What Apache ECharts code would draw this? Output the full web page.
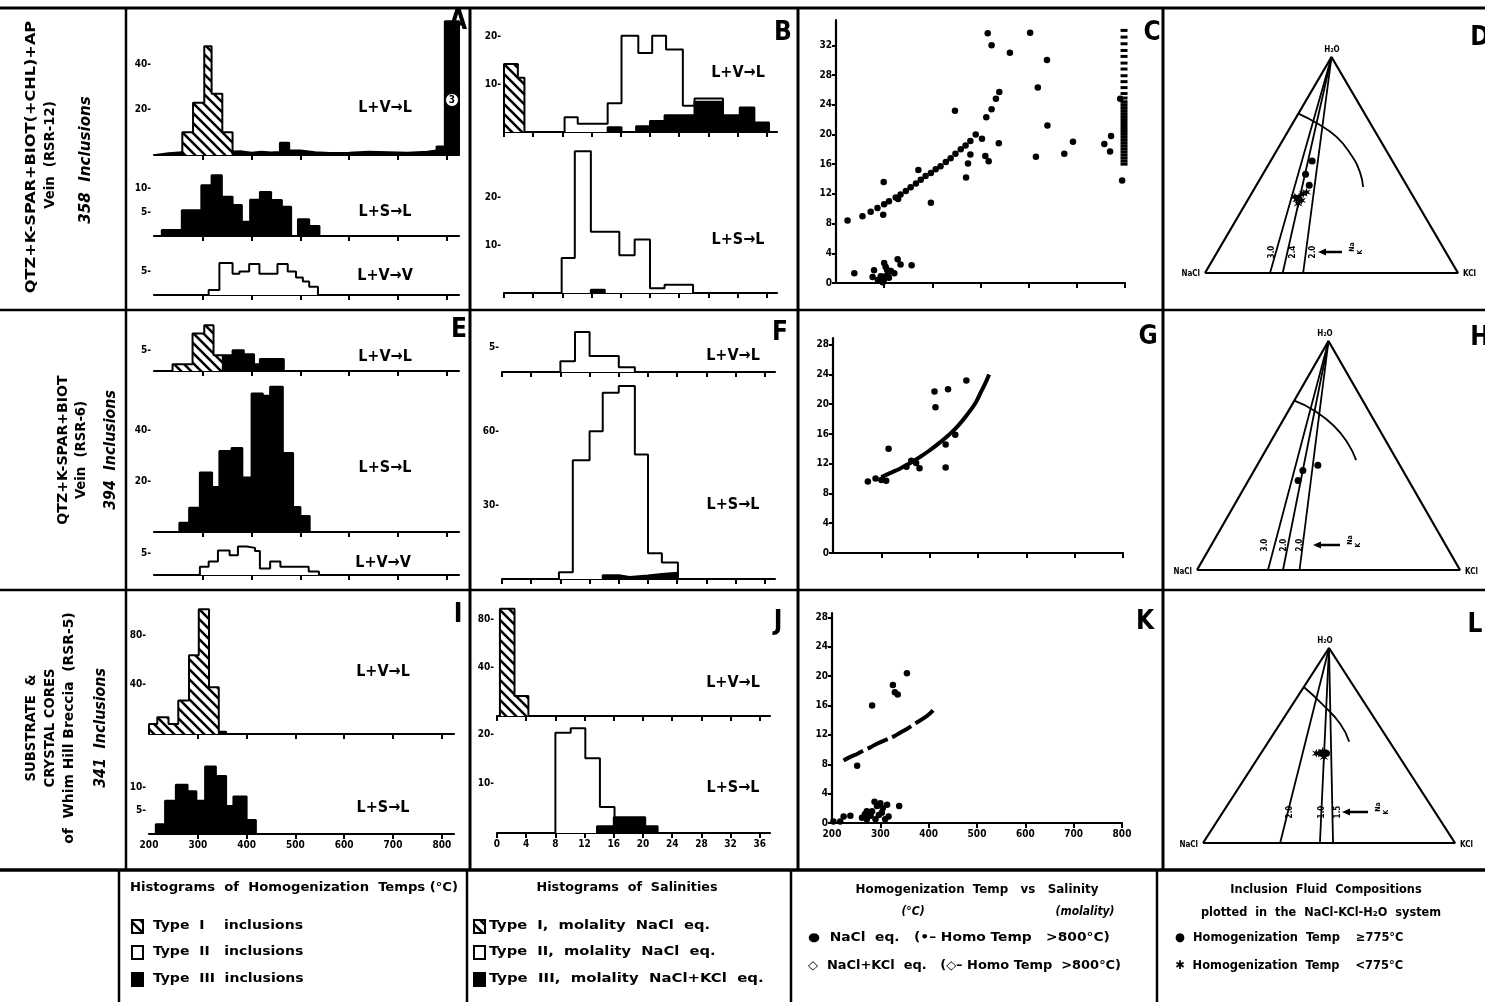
<!DOCTYPE html>
<html><head><meta charset="utf-8">
<script src="https://cdn.jsdelivr.net/npm/echarts@6/dist/echarts.min.js"></script>
<style>html,body{margin:0;padding:0;background:#fff}#c{width:1485px;height:1005px}</style>
</head><body><div id="c"></div>
<script>
// ================= DATA =================
const tempTicks = [300, 400, 500, 600, 700, 800];
const tempLabels = [200, 300, 400, 500, 600, 700, 800];
const salTicks = [0, 4, 8, 12, 16, 20, 24, 28, 32, 36];
const salLabels = [0, 4, 8, 12, 16, 20, 24, 28, 32, 36];
const scatYTicksC = [0, 4, 8, 12, 16, 20, 24, 28, 32];
const scatYTicksGK = [0, 4, 8, 12, 16, 20, 24, 28];

// Panel A (RSR-12) homogenization temps — bin edges (°C) and counts
const A1_typeI_edges = [258, 280, 303, 318, 340, 361];
const A1_typeI_vals  = [10, 23, 48, 27, 10];
const A1_typeIII_edges = [203, 230, 258, 361, 380, 400, 420, 440, 458, 477, 500, 530, 560, 600, 640, 680, 720, 760, 779, 796, 825];
const A1_typeIII_vals  = [0.8, 1.2, 1.5, 1.6, 1.0, 1.4, 1.1, 1.3, 5.4, 2.0, 1.2, 0.9, 1.0, 1.4, 1.2, 1.0, 1.4, 2.0, 3.7, 59];
const A2_typeIII_edges = [216, 257, 297, 318, 339, 361, 380, 397, 417, 440, 462, 481, 495, 518, 539];
const A2_typeIII_vals  = [1.25, 5.4, 10.6, 12.7, 8.2, 6.5, 3.0, 7.6, 9.2, 7.5, 6.1, 0, 3.5, 2.1];
const A3_typeII_edges = [312, 334, 361, 375, 395, 416, 453, 474, 491, 505, 518, 536];
const A3_typeII_vals  = [1.1, 6.9, 4.6, 5.1, 6.7, 4.6, 6.7, 5.1, 3.8, 2.9, 1.8];

// Panel E (RSR-6)
const E1_typeI_edges = [238, 258, 279, 303, 322, 341];
const E1_typeI_vals  = [1.6, 1.6, 9, 11, 3.8];
const E1_typeIII_edges = [341, 361, 384, 405, 417, 466];
const E1_typeIII_vals  = [3.8, 5.0, 4.0, 1.6, 2.9];
const E2_typeIII_edges = [252, 272, 294, 319, 334, 359, 381, 400, 423, 438, 464, 485, 500, 519];
const E2_typeIII_vals  = [3.7, 9.6, 23.5, 17.8, 32, 33.2, 21.5, 54.7, 53.8, 57.3, 31.2, 9.9, 6.3];
const E3_typeII_edges = [294, 312, 331, 355, 372, 390, 407, 417, 438, 459, 517, 538];
const E3_typeII_vals  = [1.9, 3.1, 5.6, 4.5, 6.5, 6.2, 5.5, 1.5, 3.1, 1.9, 0.8];

// Panel I (RSR-5)
const I1_typeI_edges = [200, 217, 240, 260, 282, 302, 323, 343];
const I1_typeI_vals  = [8.2, 13.6, 8.2, 27.2, 64, 101.5, 38.1];
const I1_typeIII_edges = [343, 358];
const I1_typeIII_vals  = [1.9];
const I2_typeIII_edges = [214, 233, 255, 279, 297, 315, 337, 358, 373, 400, 419];
const I2_typeIII_vals  = [2.1, 7.1, 10.5, 9.1, 7.1, 14.4, 12.4, 6.0, 8.0, 3.0];

// Panel B salinities (molality)
const B1_typeI_edges = [0, 1.9, 2.8];
const B1_typeI_vals  = [14.2, 11.3];
const B1_typeII_edges = [8.3, 10.1, 14.2, 16.1, 18.4, 20.3, 22.2, 24.5, 26.1, 30.0];
const B1_typeII_vals  = [3.1, 1.7, 6.0, 20.1, 16.5, 20.1, 17.2, 5.5, 7.0];
const B1_typeIII_edges = [14.2, 16.1, 18.1, 20.0, 22.0, 26.1, 30.0, 32.3, 34.3, 36.3];
const B1_typeIII_vals  = [1.0, 0, 1.2, 2.3, 3.5, 6.3, 3.5, 5.1, 2.0];
const B2_typeII_edges = [7.9, 9.7, 11.9, 15.8, 17.9, 20.0, 22.0, 25.9];
const B2_typeII_vals  = [7.3, 29.6, 12.8, 7.9, 11.2, 1.0, 1.7];
const B2_typeIII_edges = [11.9, 13.8];
const B2_typeIII_vals  = [0.7];

// Panel F
const F1_typeII_edges = [8.0, 10.0, 12.0, 16.0, 18.2];
const F1_typeII_vals  = [2.2, 8.3, 3.3, 1.0];
const F2_typeII_edges = [7.8, 9.7, 12.0, 13.8, 16.0, 18.2, 20.0, 21.9, 24.1];
const F2_typeII_vals  = [2.7, 48.2, 60, 75.6, 78.3, 50.5, 10.4, 6.7];
const F2_typeIII_edges = [13.8, 16.0, 17.5, 20.0, 21.9, 24.1];
const F2_typeIII_vals  = [1.5, 0.8, 1.4, 2.0, 2.5];

// Panel J
const J1_typeI_edges = [0.4, 2.4, 4.3];
const J1_typeI_vals  = [88.7, 16.5];
const J2_typeII_edges = [8.0, 10.1, 12.1, 14.1, 16.1];
const J2_typeII_vals  = [20.4, 21.3, 15.2, 5.3];
const J2_typeIII_edges = [13.7, 16.0, 20.3, 22.0];
const J2_typeIII_vals  = [1.35, 3.2, 1.35];

// Panel C: [temp °C, salinity molality]
const C_nacl = [[224,8.4],[255,9.0],[272,9.6],[286,10.1],[300,10.6],[310,11.0],[324,11.5],[334,11.9],[345,12.4],[355,12.9],[366,13.4],[376,13.9],[386,14.4],[397,14.8],[407,15.3],[417,15.7],[428,16.3],[438,16.8],[448,17.4],[459,18.0],[469,18.5],[479,19.1],[490,20.0],
  [299,13.6],[298,9.2],[329,11.3],[371,15.2],[397,10.8],[447,23.2],[470,14.2],[474,16.1],[479,17.3],[503,19.4],[510,17.1],[517,16.4],[512,22.3],[523,23.4],[532,24.8],[539,25.7],[538,18.8],[515,33.6],[523,32.0],[561,31.0],[603,33.7],[638,30.0],[619,26.3],[639,21.2],[615,17.0],[674,17.4],[692,19.0],[757,18.7],[771,19.8],[769,17.7],[794,13.8],[790,24.8],
  [238,1.3],[276,0.8],[279,1.7],[300,2.7],[303,2.2],[293,0.9],[300,0.5],[307,1.1],[314,1.6],[321,1.3],[310,0.7],[328,3.2],[334,2.5],[357,2.4],[297,0.1],[303,0.9],[287,0.4],[306,1.8]];
const C_over800_temp = 798;
const C_over800_sal = [16.0,16.4,16.8,17.2,17.6,18.0,18.4,18.8,19.2,19.6,20.0,20.4,20.8,21.2,21.6,22.0,22.4,22.8,23.2,23.6,24.0,24.4,24.9,25.5,26.3,27.1,27.9,28.8,29.6,30.5,31.3,32.2,33.1,34.0];

// Panel G
const G_curve = [[300,10.2],[320,10.8],[340,11.4],[360,12.1],[380,12.9],[400,13.8],[420,14.8],[440,15.9],[460,17.2],[480,18.8],[495,20.2],[505,21.5],[515,22.8],[523,24.0]];
const G_nacl = [[272,9.6],[288,10.0],[300,9.8],[310,9.7],[315,14.0],[352,11.6],[362,12.4],[372,12.1],[379,11.4],[410,21.7],[412,19.6],[438,22.0],[476,23.2],[433,14.6],[453,15.9],[433,11.5]];

// Panel K
const K_curve = [[224,8.5],[238,9.0],[252,9.4],[266,9.9],[279,10.3],[293,10.8],[314,11.4],[328,11.8],[341,12.3],[355,12.8],[369,13.4],[383,14.0],[397,14.6],[410,15.4]];
const K_nacl = [[252,7.8],[283,16.0],[355,20.4],[339,2.3],[326,18.8],[330,17.8],[336,17.5],
  [203,0.2],[217,0.2],[224,0.9],[238,1.0],[262,0.7],[268,1.2],[272,0.5],[272,1.6],[280,1.0],[283,1.6],[288,2.9],[290,0.5],[293,2.3],[297,1.1],[300,2.7],[303,1.4],[305,2.0],[310,0.5],[314,2.5],[317,0.9]];

// Ternary panels: compositions [NaCl, KCl, H2O] (%)
const triangle = [[100,0,0],[0,100,0],[0,0,100],[100,0,0]];
const D_ratioBaseK = [25.7, 30.7, 38.8];
const D_ratioLabels = ['3.0', '2.4', '2.0'];
const D_arc = [[26.2,0,73.8],[21.2,9.4,69.4],[16.5,20.5,63.0],[14.9,30.6,54.5],[15.4,37.8,46.8],[17.6,42.6,39.8]];
const D_hot = [[31.7,16.4,51.9],[37.4,16.9,45.7],[38.5,20.9,40.6]];
const D_cool = [[45.2,19.6,35.2],[46.8,19.2,34.0],[45.0,21.4,33.6],[47.2,20.8,32.1],[42.9,20.5,36.7],[46.9,17.9,35.2],[41.2,21.4,37.5]];
const H_ratioBaseK = [27, 32.7, 39];
const H_ratioLabels = ['3.0', '2.0', '2.0'];
const H_arc = [[26,0,74],[21,9,70],[16.5,20.5,63],[15,30,55],[15.5,36.5,48]];
const H_hot = [[38,18.5,43.5],[31.2,23.1,45.7],[42,18.9,39.1]];
const H_cool = [];
const L_ratioBaseK = [30.6, 46.4, 51.6];
const L_ratioLabels = ['2.0', '1.0', '1.5'];
const L_arc = [[20,0,80],[17,12,71],[15,24,61],[16,32,52]];
const L_hot = [[30,24,46],[28,26,46]];
const L_cool = [[31,23,46],[29,24,47],[30,26,44],[32,22,46]];

// ================= BUILD =================
const FONT = "'DejaVu Sans Condensed','Liberation Sans Narrow','DejaVu Sans',sans-serif";
function hatchCanvas() {
  const c = document.createElement('canvas'); const n = 10; c.width = n; c.height = n;
  const g = c.getContext('2d'); g.fillStyle = '#fff'; g.fillRect(0, 0, n, n);
  g.strokeStyle = '#000'; g.lineWidth = 2.6; g.beginPath();
  g.moveTo(-2, -2); g.lineTo(n + 2, n + 2);
  g.moveTo(-2, n - 2); g.lineTo(2, n + 2);
  g.moveTo(n - 2, -2); g.lineTo(n + 2, 2);
  g.stroke(); return c;
}
const HATCH = { image: hatchCanvas(), repeat: 'repeat' };

const grids = [], xAxes = [], yAxes = [], series = [];
function addGrid(g, xa, ya) {
  grids.push(Object.assign({ containLabel: false }, g));
  const i = grids.length - 1;
  xAxes.push(Object.assign({ gridIndex: i }, xa));
  yAxes.push(Object.assign({ gridIndex: i }, ya));
  return i;
}
const lblStyle = { color: '#000', fontFamily: FONT, fontWeight: 'bold', fontSize: 10 };
function histX(min, max, ticks, labels) {
  return { type: 'value', min: min, max: max, splitLine: { show: false },
    axisLine: { show: true, onZero: false, lineStyle: { color: '#000', width: 2.2 } },
    axisTick: { show: true, customValues: ticks, length: 5, lineStyle: { color: '#000', width: 2 } },
    axisLabel: Object.assign({ show: !!labels, customValues: labels || [], margin: 6, fontSize: 11 }, lblStyle) };
}
function histY(max, labels) {
  return { type: 'value', min: 0, max: max, splitLine: { show: false },
    axisLine: { show: false }, axisTick: { show: false },
    axisLabel: Object.assign({ show: true, customValues: labels, formatter: '{value}-', margin: 3 }, lblStyle) };
}
function outline(edges, vals) {
  const pts = [[edges[0], 0]];
  for (let i = 0; i < vals.length; i++) { pts.push([edges[i], vals[i]]); pts.push([edges[i + 1], vals[i]]); }
  pts.push([edges[edges.length - 1], 0]);
  return pts;
}
function hist(gi, edges, vals, kind, z) {
  const fill = kind === 'black' ? '#000' : (kind === 'hatch' ? HATCH : '#fff');
  series.push({ type: 'line', xAxisIndex: gi, yAxisIndex: gi, data: outline(edges, vals),
    symbol: 'none', showSymbol: false, smooth: false, z: z || 2, silent: true,
    lineStyle: { color: '#000', width: 2 }, areaStyle: { color: fill, opacity: 1 } });
}

// ---- Column 1: homogenization temps
function tempGrid(left, top, height, yMax, yLabels, showX) {
  return addGrid({ left: left, top: top, width: 305, height: height },
    histX(200, 825, tempTicks, showX ? tempLabels : null), histY(yMax, yLabels));
}
let g;
g = tempGrid(154, 19, 136, 60, [20, 40]);
hist(g, A1_typeIII_edges, A1_typeIII_vals, 'black', 2); hist(g, A1_typeI_edges, A1_typeI_vals, 'hatch', 3);
g = tempGrid(154, 169, 67, 14, [5, 10]);
hist(g, A2_typeIII_edges, A2_typeIII_vals, 'black');
g = tempGrid(154, 258, 37, 8, [5]);
hist(g, A3_typeII_edges, A3_typeII_vals, 'open');
g = tempGrid(154, 321, 50, 12, [5]);
hist(g, E1_typeIII_edges, E1_typeIII_vals, 'black', 2); hist(g, E1_typeI_edges, E1_typeI_vals, 'hatch', 3);
g = tempGrid(154, 380, 152, 60, [20, 40]);
hist(g, E2_typeIII_edges, E2_typeIII_vals, 'black');
g = tempGrid(154, 540, 35, 8, [5]);
hist(g, E3_typeII_edges, E3_typeII_vals, 'open');
g = tempGrid(149, 605, 129, 105, [40, 80]);
hist(g, I1_typeIII_edges, I1_typeIII_vals, 'black', 2); hist(g, I1_typeI_edges, I1_typeI_vals, 'hatch', 3);
g = tempGrid(149, 759, 75, 16, [5, 10], true);
hist(g, I2_typeIII_edges, I2_typeIII_vals, 'black');

// ---- Column 2: salinities
function salGrid(left, top, height, yMax, yLabels, showX) {
  return addGrid({ left: left, top: top, width: 273, height: height },
    histX(0, 37.4, salTicks, showX ? salLabels : null), histY(yMax, yLabels));
}
g = salGrid(504, 17, 115, 24, [10, 20]);
hist(g, B1_typeI_edges, B1_typeI_vals, 'hatch', 3); hist(g, B1_typeII_edges, B1_typeII_vals, 'open', 2); hist(g, B1_typeIII_edges, B1_typeIII_vals, 'black', 4);
g = salGrid(504, 135, 158, 33, [10, 20]);
hist(g, B2_typeII_edges, B2_typeII_vals, 'open', 2); hist(g, B2_typeIII_edges, B2_typeIII_vals, 'black', 4);
g = salGrid(502, 314, 58, 12, [5]);
hist(g, F1_typeII_edges, F1_typeII_vals, 'open', 2);
g = salGrid(502, 372, 207, 84, [30, 60]);
hist(g, F2_typeII_edges, F2_typeII_vals, 'open', 2); hist(g, F2_typeIII_edges, F2_typeIII_vals, 'black', 4);
g = salGrid(497, 600, 116, 96, [40, 80]);
hist(g, J1_typeI_edges, J1_typeI_vals, 'hatch', 3);
g = salGrid(497, 720, 113, 23, [10, 20], true);
hist(g, J2_typeII_edges, J2_typeII_vals, 'open', 2); hist(g, J2_typeIII_edges, J2_typeIII_vals, 'black', 4);

// ---- Column 3: temp vs salinity
function scatGrid(left, top, width, height, yMax, yTicks, showX) {
  return addGrid({ left: left, top: top, width: width, height: height },
    histX(200, 800, tempTicks, showX ? tempLabels : null),
    { type: 'value', min: 0, max: yMax, splitLine: { show: false },
      axisLine: { show: true, lineStyle: { color: '#000', width: 2.2 } },
      axisTick: { show: true, customValues: yTicks, length: 4, lineStyle: { color: '#000', width: 2 } },
      axisLabel: Object.assign({ customValues: yTicks, margin: 4, fontSize: 9 }, lblStyle) });
}
function scat(gi, data, size, sym) {
  series.push({ type: 'scatter', xAxisIndex: gi, yAxisIndex: gi, data: data, symbol: sym || 'circle',
    symbolSize: size, itemStyle: { color: '#000', opacity: 1 }, silent: true, z: 5 });
}
g = scatGrid(836, 20, 289, 263, 35.4, scatYTicksC);
scat(g, C_nacl, 6.5);
scat(g, C_over800_sal.map(s => [C_over800_temp, s]), [7, 3], 'rect');
g = scatGrid(833, 338, 290, 215, 28.9, scatYTicksGK);
series.push({ type: 'line', xAxisIndex: g, yAxisIndex: g, data: G_curve, smooth: true, symbol: 'none',
  lineStyle: { color: '#000', width: 4 }, silent: true, z: 4 });
scat(g, G_nacl, 6.5);
g = scatGrid(832, 613, 290, 210, 28.6, scatYTicksGK, true);
series.push({ type: 'line', xAxisIndex: g, yAxisIndex: g, data: K_curve, smooth: true, symbol: 'none',
  lineStyle: { color: '#000', width: 4, type: [22, 5] }, silent: true, z: 4 });
scat(g, K_nacl, 6.5);

// ---- Column 4: ternary
function tern(p) { const s = p[0] + p[1] + p[2]; const k = p[1] / s, h = p[2] / s; return [k + h / 2, h]; }
function ternGrid(left, top, width, height, baseK, arc, hot, cool) {
  const gi = addGrid({ left: left, top: top, width: width, height: height },
    { type: 'value', min: 0, max: 1, show: false }, { type: 'value', min: 0, max: 1, show: false });
  series.push({ type: 'line', xAxisIndex: gi, yAxisIndex: gi, data: triangle.map(tern), symbol: 'none',
    lineStyle: { color: '#000', width: 2.2 }, silent: true, clip: false });
  baseK.forEach(k => series.push({ type: 'line', xAxisIndex: gi, yAxisIndex: gi,
    data: [tern([0, 0, 100]), tern([100 - k, k, 0])], symbol: 'none',
    lineStyle: { color: '#000', width: 1.8 }, silent: true, clip: false }));
  series.push({ type: 'line', xAxisIndex: gi, yAxisIndex: gi, data: arc.map(tern), smooth: true, symbol: 'none',
    lineStyle: { color: '#000', width: 1.8 }, silent: true });
  scat(gi, hot.map(tern), 7);
  scat(gi, cool.map(tern), 9, 'path://M0,-10L2,-3L9,-6L4,0L9,6L2,3L0,10L-2,3L-9,6L-4,0L-9,-6L-2,-3Z');
  return gi;
}
ternGrid(1205, 57, 253, 216, D_ratioBaseK, D_arc, D_hot, D_cool);
ternGrid(1197, 341, 263, 229, H_ratioBaseK, H_arc, H_hot, H_cool);
ternGrid(1203, 648, 252, 195, L_ratioBaseK, L_arc, L_hot, L_cool);

// ================= GRAPHIC (frame + text) =================
const gr = [];
function line(x1, y1, x2, y2, w) { gr.push({ type: 'line', shape: { x1, y1, x2, y2 }, style: { stroke: '#000', lineWidth: w || 2.5 }, silent: true }); }
function text(t, x, y, font, align, rot, sx, z) {
  gr.push({ type: 'text', x: x, y: y, rotation: rot || 0, scaleX: sx || 1, silent: true, z: z || 10,
    style: { text: t, font: font, fill: '#000', align: align || 'center', textAlign: align || 'center',
      verticalAlign: 'middle', textVerticalAlign: 'middle' } });
}
// frame
line(0, 8, 1485, 8, 3); line(0, 310, 1485, 310, 2.5); line(0, 590, 1485, 590, 2.5); line(0, 870, 1485, 870, 3.5);
line(126, 8, 126, 870, 2.5); line(119, 870, 119, 1002, 2.5);
line(470, 8, 470, 870, 3); line(467, 870, 467, 1002, 2.5);
line(798, 8, 798, 870, 3); line(791, 870, 791, 1002, 2.5);
line(1163, 8, 1163, 870, 3); line(1157, 870, 1157, 1002, 2.5);

// circled "3" on the >800 °C stack of panel A
gr.push({ type: 'circle', shape: { cx: 452, cy: 100, r: 6.5 }, style: { fill: '#fff', stroke: '#000', lineWidth: 1 }, silent: true, z: 50 });
text('3', 452, 100, 'bold 10px ' + FONT, 'center', 0, 1, 60);

const F_REACT = 'bold 16px ' + FONT;
const reacts = [
  ['L+V→L', 385, 108], ['L+S→L', 385, 212], ['L+V→V', 385, 276],
  ['L+V→L', 738, 73], ['L+S→L', 738, 240],
  ['L+V→L', 385, 357], ['L+S→L', 385, 468], ['L+V→V', 383, 563],
  ['L+V→L', 733, 356], ['L+S→L', 733, 505],
  ['L+V→L', 383, 672], ['L+S→L', 383, 808],
  ['L+V→L', 733, 683], ['L+S→L', 733, 788]];
reacts.forEach(r => text(r[0], r[1], r[2], F_REACT));
const letters = [['A', 458, 22], ['B', 783, 33], ['C', 1152, 33], ['D', 1480, 38], ['E', 459, 330], ['F', 780, 333],
  ['G', 1148, 337], ['H', 1480, 338], ['I', 458, 615], ['J', 778, 622], ['K', 1145, 622], ['L', 1475, 625]];
letters.forEach(l => text(l[0], l[1], l[2], 'bold 26px ' + FONT));

// left row labels (rotated)
const R = Math.PI / 2, F_ROW = 'bold 14px ' + FONT, F_INC = 'italic bold 15px ' + FONT;
text('QTZ+K-SPAR+BIOT(+CHL)+AP', 31, 157, F_ROW, 'center', R, 1.28);
text('Vein  (RSR-12)', 50, 155, F_ROW, 'center', R, 1.05);
text('358  Inclusions', 86, 160, F_INC, 'center', R, 1.12);
text('QTZ+K-SPAR+BIOT', 63, 450, F_ROW, 'center', R, 1.12);
text('Vein  (RSR-6)', 81, 450, F_ROW, 'center', R, 1.05);
text('394  Inclusions', 111, 450, F_INC, 'center', R, 1.05);
text('SUBSTRATE  &', 31, 728, F_ROW, 'center', R, 1.05);
text('CRYSTAL CORES', 50, 728, F_ROW, 'center', R, 1.05);
text('of  Whim Hill Breccia  (RSR-5)', 69, 728, F_ROW, 'center', R, 1.1);
text('341  Inclusions', 101, 728, F_INC, 'center', R, 1.05);

// ternary labels
const F_T = 'bold 8px ' + FONT;
[[1332, 50, 1203, 274, 1460, 274], [1325, 334, 1195, 572, 1462, 572], [1325, 641, 1201, 845, 1457, 845]].forEach(p => {
  text('H₂O', p[0], p[1], F_T); text('NaCl', p[2] - 3, p[3], F_T, 'right'); text('KCl', p[4] + 3, p[5], F_T, 'left');
});
const ratioLbl = [[D_ratioLabels, [1272, 1293, 1313], 252, 1342, 1323], [H_ratioLabels, [1265, 1284, 1300], 545, 1340, 1318], [L_ratioLabels, [1290, 1322, 1338], 812, 1368, 1347]];
ratioLbl.forEach(r => {
  r[0].forEach((t, i) => text(t, r[1][i], r[2], 'bold 8px ' + FONT, 'center', R));
  gr.push({ type: 'line', shape: { x1: r[3], y1: r[2], x2: r[4], y2: r[2] }, style: { stroke: '#000', lineWidth: 2.5 }, silent: true });
  gr.push({ type: 'polygon', shape: { points: [[r[4] - 5, r[2]], [r[4] + 3, r[2] - 3.5], [r[4] + 3, r[2] + 3.5]] }, style: { fill: '#000' }, silent: true });
  text('Na', r[3] + 10, r[2] - 5, 'bold 7px ' + FONT, 'center', R);
  text('K', r[3] + 18, r[2], 'bold 7px ' + FONT, 'center', R);
});

// bottom legend
const F_LEG = 'bold 12px ' + FONT;
text('Histograms  of  Homogenization  Temps (°C)', 294, 888, F_LEG, 'center', 0, 1.22);
text('Histograms  of  Salinities', 627, 888, F_LEG, 'center', 0, 1.18);
text('Homogenization  Temp   vs   Salinity', 977, 890, F_LEG, 'center', 0, 1.1);
text('(°C)', 913, 912, 'italic bold 12px ' + FONT);
text('(molality)', 1085, 912, 'italic bold 12px ' + FONT);
text('Inclusion  Fluid  Compositions', 1326, 890, F_LEG, 'center', 0, 1.05);
text('plotted  in  the  NaCl-KCl-H₂O  system', 1321, 913, F_LEG, 'center', 0, 1.05);
function box(x, y, kind) {
  gr.push({ type: 'rect', shape: { x: x, y: y - 6, width: 11, height: 13 },
    style: { fill: kind === 'black' ? '#000' : (kind === 'hatch' ? HATCH : '#fff'), stroke: '#000', lineWidth: 2 }, silent: true });
}
box(132, 926, 'hatch'); text('Type  I    inclusions', 153, 926, F_LEG, 'left', 0, 1.3);
box(132, 952, 'open');  text('Type  II   inclusions', 153, 952, F_LEG, 'left', 0, 1.3);
box(132, 979, 'black'); text('Type  III  inclusions', 153, 979, F_LEG, 'left', 0, 1.3);
box(474, 926, 'hatch'); text('Type  I,  molality  NaCl  eq.', 489, 926, F_LEG, 'left', 0, 1.36);
box(474, 952, 'open');  text('Type  II,  molality  NaCl  eq.', 489, 952, F_LEG, 'left', 0, 1.36);
box(474, 979, 'black'); text('Type  III,  molality  NaCl+KCl  eq.', 489, 979, F_LEG, 'left', 0, 1.38);
text('●  NaCl  eq.   (•– Homo Temp   >800°C)', 808, 938, F_LEG, 'left', 0, 1.28);
text('◇  NaCl+KCl  eq.   (◇– Homo Temp  >800°C)', 808, 966, F_LEG, 'left', 0, 1.2);
text('●  Homogenization  Temp    ≥775°C', 1175, 938, F_LEG, 'left', 0, 1.06);
text('✱  Homogenization  Temp    <775°C', 1175, 966, F_LEG, 'left', 0, 1.06);

const chart = echarts.init(document.getElementById('c'), null, { renderer: 'canvas' });
chart.setOption({
  animation: false, backgroundColor: '#fff',
  grid: grids, xAxis: xAxes, yAxis: yAxes, series: series, graphic: { elements: gr }
});
</script></body></html>
